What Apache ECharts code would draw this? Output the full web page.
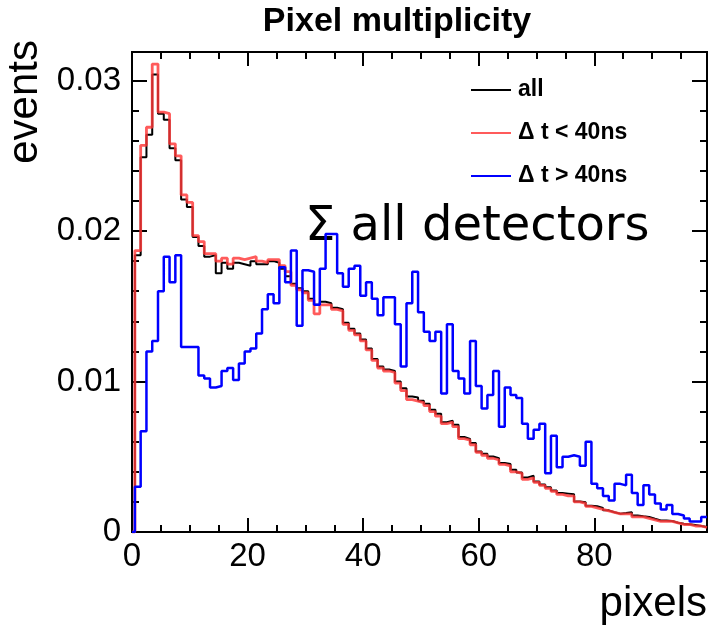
<!DOCTYPE html>
<html><head><meta charset="utf-8">
<script src="https://cdn.jsdelivr.net/npm/echarts@6/dist/echarts.min.js"></script>
<style>html,body{margin:0;padding:0;background:#fff}#c{width:710px;height:625px}</style>
</head><body><div id="c"></div>
<script>
// histogram contents, one value per 1-pixel bin (bin n covers n-0.5 .. n+0.5), bins 0..99
const allEvents = [
0, 0.0184, 0.0249, 0.0264, 0.0304, 0.0278, 0.0274, 0.0255, 0.0247, 0.0221,
0.0216, 0.0196, 0.0190, 0.0183, 0.0184, 0.0172, 0.0179, 0.0175, 0.0179, 0.0178,
0.0177, 0.0180, 0.0178, 0.0178, 0.0180, 0.0179, 0.0175, 0.0170, 0.0165, 0.0162,
0.0160, 0.0155, 0.0151, 0.0153, 0.0152, 0.0149, 0.0148, 0.0139, 0.0135, 0.0132,
0.0128, 0.0122, 0.0115, 0.0110, 0.0108, 0.0107, 0.0100, 0.00956, 0.0090, 0.00894,
0.00872, 0.00852, 0.00812, 0.00786, 0.0073, 0.0074, 0.00712, 0.00631, 0.00618, 0.00591,
0.00535, 0.0052, 0.00502, 0.00491, 0.00458, 0.00452, 0.00414, 0.00396, 0.00363, 0.00374,
0.00336, 0.00316, 0.00298, 0.00276, 0.00259, 0.00255, 0.00251, 0.00203, 0.00197, 0.00175,
0.00171, 0.00159, 0.00144, 0.00131, 0.00122, 0.00126, 0.00131, 0.00109, 0.00104, 0.0010,
0.00088, 0.00077, 0.00077, 0.00073, 0.00062, 0.00055, 0.00051, 0.00046, 0.0004, 0.00033
];
const promptEvents = [
0, 0.0187, 0.0257, 0.0269, 0.0311, 0.0279, 0.0278, 0.0258, 0.0250, 0.0224,
0.0219, 0.0197, 0.0193, 0.0185, 0.0185, 0.0180, 0.0182, 0.0178, 0.0182, 0.0181,
0.0182, 0.0183, 0.0180, 0.0179, 0.0181, 0.0181, 0.0177, 0.0173, 0.0164, 0.0161,
0.0159, 0.0154, 0.0145, 0.0151, 0.0151, 0.0148, 0.0147, 0.0138, 0.0134, 0.0131,
0.0127, 0.0121, 0.0114, 0.0109, 0.0107, 0.0106, 0.0099, 0.0094, 0.0088, 0.0087,
0.0086, 0.0084, 0.0080, 0.0077, 0.0072, 0.0073, 0.0070, 0.0062, 0.0061, 0.0058,
0.0053, 0.0051, 0.0049, 0.0048, 0.0045, 0.0044, 0.0040, 0.0039, 0.0035, 0.0036,
0.0033, 0.0031, 0.0029, 0.0027, 0.0025, 0.0024, 0.0024, 0.0020, 0.0019, 0.0017,
0.0016, 0.0015, 0.0014, 0.0013, 0.0012, 0.0012, 0.0012, 0.0010, 0.0010, 0.0009,
0.0008, 0.0007, 0.0007, 0.0007, 0.0006, 0.0005, 0.0005, 0.0004, 0.0004, 0.0003
];
const delayedEvents = [
0, 0.0030, 0.0067, 0.0120, 0.0127, 0.0160, 0.0183, 0.0166, 0.0184, 0.0123,
0.0123, 0.0123, 0.0104, 0.0102, 0.0096, 0.0097, 0.0107, 0.0109, 0.0101, 0.0112,
0.0120, 0.0122, 0.0132, 0.0148, 0.0158, 0.0152, 0.0176, 0.0166, 0.0187, 0.0137,
0.0174, 0.0173, 0.0151, 0.0175, 0.0198, 0.0198, 0.0172, 0.0163, 0.0175, 0.0177,
0.0157, 0.0166, 0.0155, 0.0144, 0.0156, 0.0156, 0.0138, 0.0110, 0.0152, 0.0173,
0.0146, 0.0133, 0.0127, 0.0133, 0.0092, 0.0138, 0.0107, 0.0102, 0.0092, 0.0127,
0.0097, 0.0082, 0.0091, 0.0107, 0.0070, 0.0096, 0.0091, 0.0089, 0.0072, 0.0062,
0.0068, 0.0072, 0.0039, 0.0064, 0.0043, 0.0050, 0.0051, 0.0050, 0.0044, 0.0060,
0.0032, 0.0029, 0.0024, 0.0021, 0.0032, 0.0031, 0.0038, 0.0026, 0.0018, 0.0031,
0.0025, 0.0019, 0.0015, 0.0018, 0.0012, 0.0011, 0.0009, 0.0007, 0.0007, 0.0010
];
const seriesNames = ['all', '\u0394 t < 40ns', '\u0394 t > 40ns'];
const xRange = [0, 99.5];
const yRange = [0, 0.0319];
const xMajor = 20, xMinor = 5, yMajor = 0.01, yMinor = 0.002;

function stepPoints(vals) {
  const pts = [[xRange[0], 0]];
  vals.forEach((v, i) => {
    const lo = Math.max(xRange[0], i - 0.5), hi = i + 0.5;
    pts.push([lo, v], [hi, v]);
  });
  return pts;
}

const FONT = 'Liberation Sans';
const chart = echarts.init(document.getElementById('c'), null, {renderer: 'canvas'});

function xAx(pos, interval, len, labels) {
  return {
    type: 'value', position: pos, offset: 0, min: xRange[0], max: xRange[1], interval: interval,
    axisLine: {show: true, onZero: false, lineStyle: {color: '#000', width: 2}},
    axisTick: {show: true, inside: true, length: len, lineStyle: {color: '#000', width: 2}},
    splitLine: {show: false},
    axisLabel: {show: labels, showMaxLabel: false, margin: 8, color: '#000', fontFamily: FONT, fontSize: 33}
  };
}
function yAx(pos, interval, len, labels) {
  return {
    type: 'value', position: pos, offset: 0, min: yRange[0], max: yRange[1], interval: interval,
    axisLine: {show: true, onZero: false, lineStyle: {color: '#000', width: 2}},
    axisTick: {show: true, inside: true, length: len, lineStyle: {color: '#000', width: 2}},
    splitLine: {show: false},
    axisLabel: {show: labels, showMaxLabel: false, margin: 11, color: '#000', fontFamily: FONT, fontSize: 33,
      formatter: v => v === 0 ? '0' : String(+v.toFixed(3))}
  };
}

const RED = 'rgba(255,55,55,0.82)';
chart.setOption({
  animation: false,
  backgroundColor: '#fff',
  grid: {left: 132, right: 3, top: 52, bottom: 93, containLabel: false},
  xAxis: [
    xAx('bottom', xMinor, 7, false),
    xAx('bottom', xMajor, 14, true),
    xAx('top', xMinor, 7, false),
    xAx('top', xMajor, 14, false)
  ],
  yAxis: [
    yAx('left', yMinor, 7, false),
    yAx('left', yMajor, 15, true),
    yAx('right', yMinor, 7, false),
    yAx('right', yMajor, 15, false)
  ],
  legend: {
    orient: 'vertical', left: 465, top: 73, itemWidth: 40, itemHeight: 14, itemGap: 19,
    data: seriesNames,
    itemStyle: {opacity: 0},
    textStyle: {color: '#000', fontFamily: FONT, fontWeight: 'bold', fontSize: 23, lineHeight: 24, padding: [0, 0, 0, 2]}
  },
  series: [
    {name: seriesNames[0], type: 'line', xAxisIndex: 1, yAxisIndex: 1, symbol: 'none', clip: true,
     data: stepPoints(allEvents), lineStyle: {color: '#000', width: 2}, itemStyle: {color: '#000'}},
    {name: seriesNames[1], type: 'line', xAxisIndex: 1, yAxisIndex: 1, symbol: 'none', clip: true,
     data: stepPoints(promptEvents), lineStyle: {color: RED, width: 2.8}, itemStyle: {color: RED}},
    {name: seriesNames[2], type: 'line', xAxisIndex: 1, yAxisIndex: 1, symbol: 'none', clip: true,
     data: stepPoints(delayedEvents), lineStyle: {color: '#0000ff', width: 2.5}, itemStyle: {color: '#0000ff'}}
  ],
  graphic: [
    {type: 'text', x: 397, y: 22,
     style: {text: 'Pixel multiplicity', fill: '#000', font: 'bold 34px "Liberation Sans"', align: 'center', verticalAlign: 'middle'}},
    {type: 'text', x: 25, y: 40, rotation: Math.PI / 2,
     style: {text: 'events', fill: '#000', font: '42px "Liberation Sans"', align: 'right', verticalAlign: 'middle'}},
    {type: 'text', x: 707, y: 604,
     style: {text: 'pixels', fill: '#000', font: '42px "Liberation Sans"', align: 'right', verticalAlign: 'middle'}},
    {type: 'text', x: 305, y: 228,
     style: {text: '\u03A3 all detectors', fill: '#000', font: '48px "DejaVu Sans"', align: 'left', verticalAlign: 'middle'}}
  ]
});
</script></body></html>
